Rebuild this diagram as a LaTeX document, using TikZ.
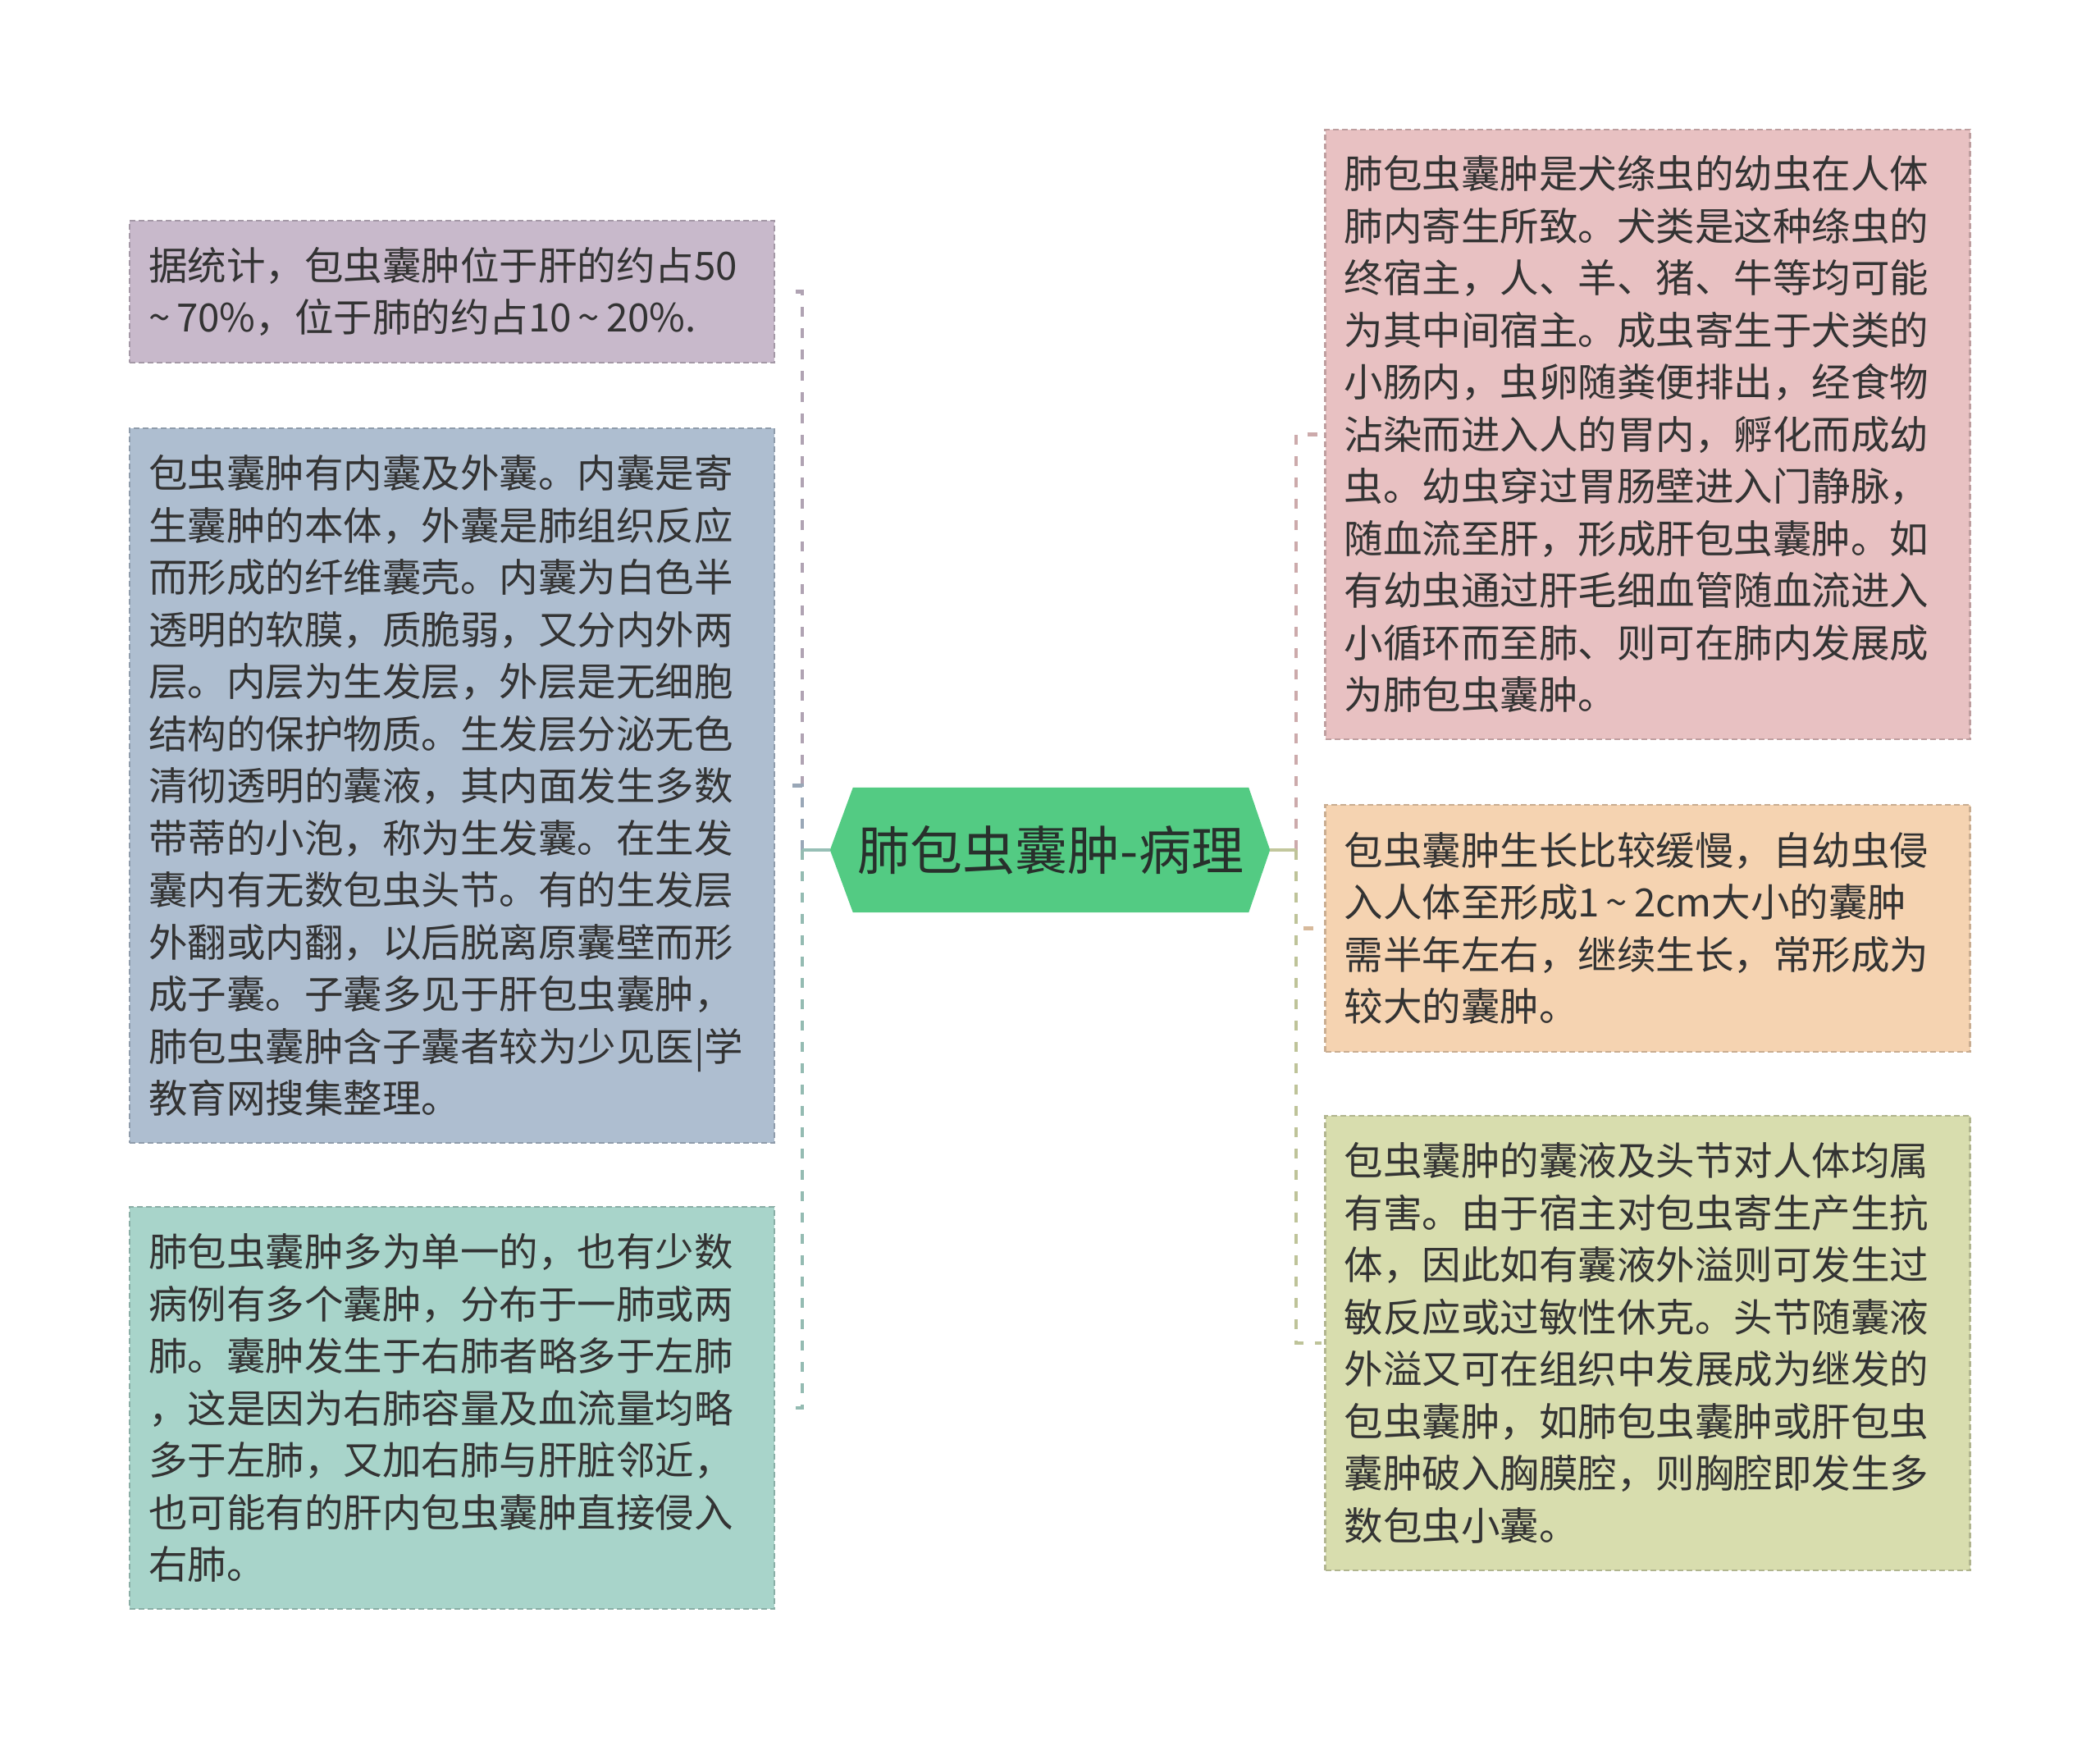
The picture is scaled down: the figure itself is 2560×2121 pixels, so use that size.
\documentclass[tikz,border=0pt]{standalone}
\usepackage{fontspec}
\setmainfont{Noto Sans CJK SC}
\usetikzlibrary{calc,backgrounds}
\definecolor{cPurple}{RGB}{200,185,203}
\definecolor{cBlue}{RGB}{174,190,208}
\definecolor{cTeal}{RGB}{168,212,202}
\definecolor{cPink}{RGB}{232,193,194}
\definecolor{cOrange}{RGB}{245,211,177}
\definecolor{cOlive}{RGB}{216,221,174}
\definecolor{cHex}{RGB}{83,203,131}
\definecolor{cText}{RGB}{51,51,51}
\definecolor{cTitle}{RGB}{40,48,44}
\newcommand{\tld}{\,\textasciitilde\,}
\begin{document}
\begin{tikzpicture}[x=1pt,y=-1pt,
  infobox/.style={fill=#1, draw=#1!82!black, line width=2.2pt, dash pattern=on 7pt off 4pt,
    text width=740pt, align=left, inner xsep=23pt, inner ysep=0pt,
    font=\fontsize{47.5pt}{63.5pt}\selectfont, text=cText, anchor=center},
  titlebox/.style={minimum width=482pt, minimum height=152pt, inner sep=0pt,
    font=\fontsize{64pt}{70pt}\selectfont, text=cTitle},
  trunk/.style={line width=4pt},
  branch/.style={line width=4.5pt, dash pattern=on 12pt off 14pt}]
\useasboundingbox (0,0) rectangle (2560,2121);

% central topic
\node[titlebox] (c) at (1281,1036) {肺包虫囊肿-病理};
\coordinate (tl) at ($(c.west)+(-28,0)$);
\coordinate (tr) at ($(c.east)+(26,0)$);
\coordinate (jl) at ($(tl)+(-34,0)$);
\coordinate (jr) at ($(tr)+(32,0)$);
\begin{scope}[on background layer]
  \fill[white] (0,0) rectangle (2560,2121);
  \fill[cHex] (c.north west) -- (c.north east) -- (tr) -- (c.south east) -- (c.south west) -- (tl) -- cycle;
\end{scope}

% left boxes
\node[infobox=cPurple, minimum height=173pt] (L1) at (551,355.5)
 {据统计，包虫囊肿位于肝的约占50\\\textasciitilde\,70\%，位于肺的约占10\tld20\%.};
\node[infobox=cBlue, minimum height=871pt] (L2) at (551,957.5)
 {包虫囊肿有内囊及外囊。内囊是寄\\
  生囊肿的本体，外囊是肺组织反应\\
  而形成的纤维囊壳。内囊为白色半\\
  透明的软膜，质脆弱，又分内外两\\
  层。内层为生发层，外层是无细胞\\
  结构的保护物质。生发层分泌无色\\
  清彻透明的囊液，其内面发生多数\\
  带蒂的小泡，称为生发囊。在生发\\
  囊内有无数包虫头节。有的生发层\\
  外翻或内翻，以后脱离原囊壁而形\\
  成子囊。子囊多见于肝包虫囊肿，\\
  肺包虫囊肿含子囊者较为少见医|学\\
  教育网搜集整理。};
\node[infobox=cTeal, minimum height=490pt] (L3) at (551,1716)
 {肺包虫囊肿多为单一的，也有少数\\
  病例有多个囊肿，分布于一肺或两\\
  肺。囊肿发生于右肺者略多于左肺\\
  ，这是因为右肺容量及血流量均略\\
  多于左肺，又加右肺与肝脏邻近，\\
  也可能有的肝内包虫囊肿直接侵入\\
  右肺。};

% right boxes
\node[infobox=cPink, minimum height=743pt] (R1) at (2008.5,529.5)
 {肺包虫囊肿是犬绦虫的幼虫在人体\\
  肺内寄生所致。犬类是这种绦虫的\\
  终宿主，人、羊、猪、牛等均可能\\
  为其中间宿主。成虫寄生于犬类的\\
  小肠内，虫卵随粪便排出，经食物\\
  沾染而进入人的胃内，孵化而成幼\\
  虫。幼虫穿过胃肠壁进入门静脉，\\
  随血流至肝，形成肝包虫囊肿。如\\
  有幼虫通过肝毛细血管随血流进入\\
  小循环而至肺、则可在肺内发展成\\
  为肺包虫囊肿。};
\node[infobox=cOrange, minimum height=301pt] (R2) at (2008.5,1131.5)
 {包虫囊肿生长比较缓慢，自幼虫侵\\
  入人体至形成1\tld2cm大小的囊肿\\
  需半年左右，继续生长，常形成为\\
  较大的囊肿。};
\node[infobox=cOlive, minimum height=554pt] (R3) at (2008.5,1637)
 {包虫囊肿的囊液及头节对人体均属\\
  有害。由于宿主对包虫寄生产生抗\\
  体，因此如有囊液外溢则可发生过\\
  敏反应或过敏性休克。头节随囊液\\
  外溢又可在组织中发展成为继发的\\
  包虫囊肿，如肺包虫囊肿或肝包虫\\
  囊肿破入胸膜腔，则胸腔即发生多\\
  数包虫小囊。};

% connectors
\foreach \n/\col in {L1/cPurple, L2/cBlue, L3/cTeal}{
  \draw[trunk,\col!90!black] (tl) -- (jl);
  \draw[branch,\col!88!black] (jl) |- ($(\n.east)+(16,0)$);
}
\foreach \n/\col in {R1/cPink, R2/cOrange, R3/cOlive}{
  \draw[trunk,\col!90!black] (tr) -- (jr);
  \draw[branch,\col!88!black] (jr) |- ($(\n.west)+(-3,0)$);
}
\end{tikzpicture}
\end{document}
